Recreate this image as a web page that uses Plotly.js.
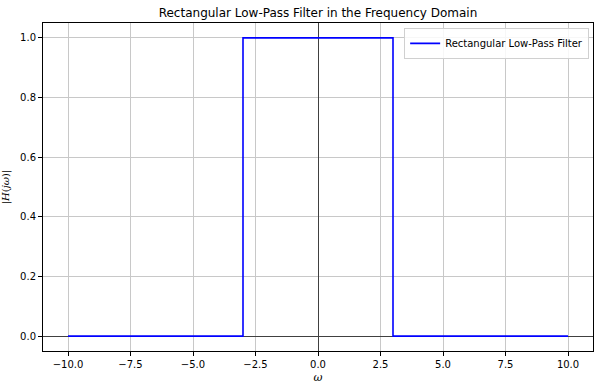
<!DOCTYPE html>
<html><head><meta charset="utf-8">
<script src="https://cdn.plot.ly/plotly-3.0.1.min.js"></script>
<style>body{margin:0;background:#fff}#c{width:600px;height:385px}</style>
</head><body><div id="c"></div>
<script>
const omega = [-10, -3, -3, 3, 3, 10];
const H = [0, 0, 1, 1, 0, 0];
const xTicks = [-10, -7.5, -5, -2.5, 0, 2.5, 5, 7.5, 10];
const xTickText = ['\u221210.0', '\u22127.5', '\u22125.0', '\u22122.5', '0.0', '2.5', '5.0', '7.5', '10.0'];
const yTicks = [0, 0.2, 0.4, 0.6, 0.8, 1.0];
const yTickText = ['0.0', '0.2', '0.4', '0.6', '0.8', '1.0'];

const font = {family: 'DejaVu Sans, sans-serif', size: 10, color: '#000'};
const trace = {x: omega, y: H, mode: 'lines', name: 'Rectangular Low-Pass Filter',
  line: {color: '#0000ff', width: 1.6}};
const axisCommon = {showline: true, mirror: true, linecolor: '#000', linewidth: 1,
  ticks: 'outside', ticklen: 4, tickcolor: '#000', tickwidth: 1,
  showgrid: true, gridcolor: '#c8c8c8', gridwidth: 1,
  zeroline: true, zerolinecolor: '#404040', zerolinewidth: 1, tickfont: font};
const layout = {
  width: 600, height: 385,
  margin: {l: 43, r: 7, t: 23, b: 34},
  paper_bgcolor: '#fff', plot_bgcolor: '#fff',
  font: font,
  title: {text: 'Rectangular Low-Pass Filter in the Frequency Domain', font: {family: 'DejaVu Sans, sans-serif', size: 12, color: '#000'}, x: 0.53, xanchor: 'center', y: 0.967, yanchor: 'middle'},
  xaxis: Object.assign({}, axisCommon, {range: [-11, 11], tickvals: xTicks, ticktext: xTickText,
    title: {text: '<i>ω</i>', font: {family: 'DejaVu Serif, serif', size: 11}, standoff: 4}}),
  yaxis: Object.assign({}, axisCommon, {range: [-0.05, 1.05], tickvals: yTicks, ticktext: yTickText,
    title: {text: '|<i>H</i>(<i>jω</i>)|', font: {family: 'DejaVu Serif, serif', size: 10}, standoff: 8}}),
  showlegend: true,
  legend: {x: 0.993, y: 0.985, xanchor: 'right', yanchor: 'top', bgcolor: 'rgba(255,255,255,0.85)',
    bordercolor: '#d0d0d0', borderwidth: 1, font: font}
};
Plotly.newPlot('c', [trace], layout, {displayModeBar: false, staticPlot: true});
</script></body></html>
